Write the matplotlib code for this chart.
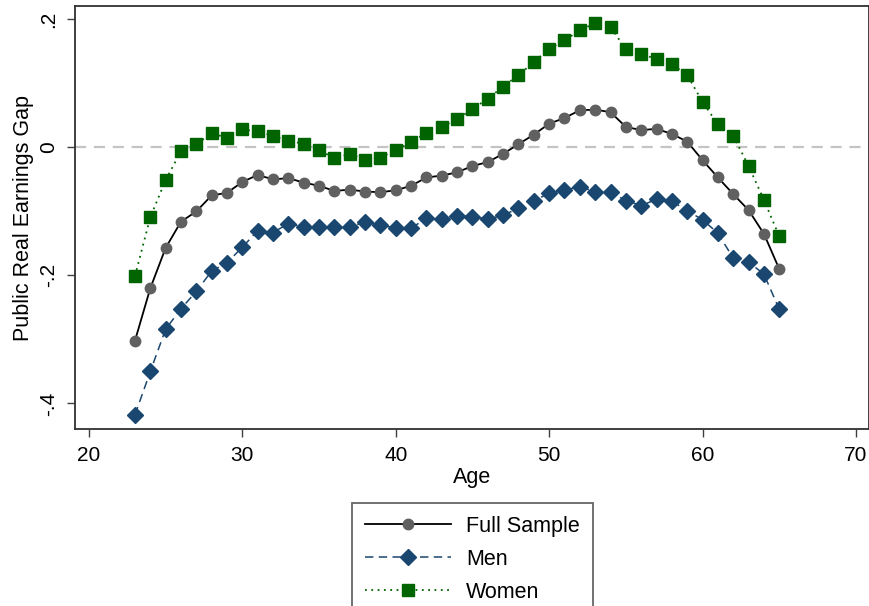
import matplotlib
matplotlib.use("Agg")
import matplotlib.pyplot as plt
import numpy as np

# ---------------------------------------------------------------------------
# Dati (gap salariale reale pubblico per età)
# ---------------------------------------------------------------------------
ages = list(range(23, 66))

full_sample = [
    -0.302, -0.220, -0.157, -0.116, -0.100, -0.075, -0.071, -0.054, -0.043, -0.050,
    -0.048, -0.055, -0.060, -0.068, -0.066, -0.069, -0.070, -0.067, -0.060, -0.047,
    -0.044, -0.039, -0.029, -0.023, -0.010, 0.005, 0.020, 0.037, 0.046, 0.058,
    0.059, 0.055, 0.032, 0.027, 0.029, 0.021, 0.009, -0.020, -0.047, -0.073,
    -0.098, -0.135, -0.190,
]

men = [
    -0.418, -0.350, -0.284, -0.252, -0.225, -0.193, -0.180, -0.156, -0.130, -0.133,
    -0.119, -0.124, -0.124, -0.124, -0.124, -0.117, -0.121, -0.126, -0.126, -0.111,
    -0.112, -0.107, -0.108, -0.112, -0.106, -0.095, -0.083, -0.072, -0.066, -0.062,
    -0.069, -0.070, -0.083, -0.091, -0.081, -0.084, -0.099, -0.113, -0.134, -0.173,
    -0.179, -0.198, -0.253,
]

women = [
    -0.201, -0.109, -0.051, -0.006, 0.005, 0.022, 0.015, 0.028, 0.025, 0.018,
    0.010, 0.006, -0.004, -0.017, -0.010, -0.019, -0.016, -0.004, 0.008, 0.023,
    0.032, 0.044, 0.060, 0.076, 0.095, 0.113, 0.133, 0.154, 0.167, 0.183,
    0.194, 0.188, 0.153, 0.146, 0.138, 0.130, 0.113, 0.071, 0.036, 0.018,
    -0.029, -0.082, -0.139,
]

x_ticks = [20, 30, 40, 50, 60, 70]
y_ticks = [-0.4, -0.2, 0, 0.2]
y_tick_labels = ["-.4", "-.2", "0", ".2"]

NAVY = "#1a476f"
GREEN = "#006400"
GRAY = "#606060"

plt.rcParams["font.family"] = ["Liberation Sans", "DejaVu Sans"]

fig = plt.figure(figsize=(8.7, 6.06), dpi=100)
ax = fig.add_axes([0.0862, 0.292, 0.9123, 0.698])

# linea di riferimento a zero
ax.axhline(0, color="#c4c4c4", linewidth=1.6, linestyle=(0, (5, 3.5)), zorder=1)

ax.plot(ages, full_sample, color="black", linewidth=1.3, linestyle="-",
        marker="o", markersize=7.5, markerfacecolor=GRAY, markeredgecolor=GRAY,
        label="Full Sample", zorder=3)
ax.plot(ages, men, color=NAVY, linewidth=1.1, linestyle=(0, (5.5, 3.5)),
        marker="D", markersize=8.5, markerfacecolor=NAVY, markeredgecolor=NAVY,
        label="Men", zorder=3)
ax.plot(ages, women, color=GREEN, linewidth=1.3, linestyle=(0, (1, 2.5)),
        marker="s", markersize=8.5, markerfacecolor=GREEN, markeredgecolor=GREEN,
        label="Women", zorder=3)

ax.set_xlim(19.09, 70.83)
ax.set_ylim(-0.440, 0.2208)
ax.set_xticks(x_ticks)
ax.set_yticks(y_ticks)
ax.set_yticklabels(y_tick_labels, rotation=90, va="center")

ax.tick_params(axis="both", direction="out", length=6, width=1.0,
               color="#404040", labelsize=15, pad=6)
for spine in ax.spines.values():
    spine.set_color("#303030")
    spine.set_linewidth(1.3)

ax.set_xlabel("Age", fontsize=15.5, labelpad=2)
ax.set_ylabel("Public Real Earnings Gap", fontsize=15.5, labelpad=4)

leg = fig.legend(
    loc="upper center",
    bbox_to_anchor=(472.5 / 870, 1 - 503 / 606),
    borderaxespad=0,
    fontsize=15.5,
    handlelength=4.0,
    handletextpad=0.7,
    labelspacing=0.55,
    borderpad=0.6,
    fancybox=False,
    frameon=True,
    edgecolor="#404040",
)
leg.get_frame().set_linewidth(1.3)

fig.savefig("out.png", dpi=100)
plt.close(fig)
